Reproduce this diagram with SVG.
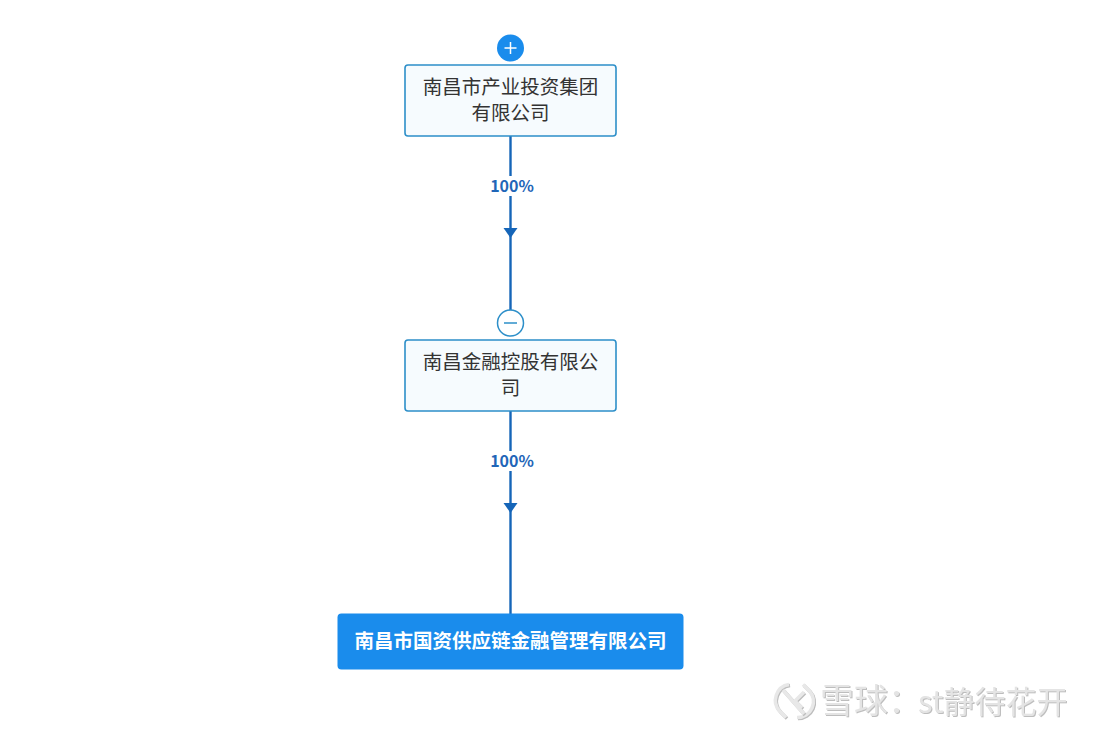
<svg xmlns="http://www.w3.org/2000/svg" width="1100" height="735" viewBox="0 0 1100 735">
<defs>
<style>
text{font-family:"Noto Sans CJK SC","Noto Sans",sans-serif}
.box{fill:#f6fbfe;stroke:#2d8fc9;stroke-width:1.6}
.t{font-size:19.5px;fill:#333;text-anchor:middle}
.pct{font-size:16px;font-weight:700;fill:#1f66b8;text-anchor:middle}
.line{stroke:#1565b8;stroke-width:2.4;fill:none}
.arr{fill:#1565b8}
.wm{fill:#e4e4e4;filter:url(#s)}
.logo{fill:none;stroke:#e8e8e8;stroke-width:3.500;filter:url(#s)}
</style>
<filter id="s" x="-10%" y="-20%" width="120%" height="140%"><feDropShadow dx="1" dy="1" stdDeviation="0.6" flood-color="#bdbdbd"/></filter>
</defs>
<rect width="1100" height="735" fill="#fff"/>
<g id="connectors">
<line class="line" x1="510.500" y1="136" x2="510.500" y2="176"/>
<line class="line" x1="510.500" y1="196" x2="510.500" y2="311"/>
<polygon class="arr" points="503.500,228 517.500,228 510.500,238"/>
<rect x="486" y="176" width="50" height="20" fill="#fff"/>
<text class="pct" x="512" y="192">100%</text>
<line class="line" x1="510.500" y1="411" x2="510.500" y2="451"/>
<line class="line" x1="510.500" y1="471" x2="510.500" y2="614"/>
<polygon class="arr" points="503.500,503 517.500,503 510.500,513"/>
<rect x="486" y="451" width="50" height="20" fill="#fff"/>
<text class="pct" x="512" y="467">100%</text>
</g>
<g id="node-1">
<rect class="box" x="405" y="65" width="211" height="71" rx="3"/>
<text class="t" x="510.500" y="93.500">南昌市产业投资集团</text>
<text class="t" x="510.500" y="119.500">有限公司</text>
<circle cx="510.500" cy="48" r="13.500" fill="#1a8cec"/>
<path d="M504.500 48h12M510.500 42v12" stroke="#fff" stroke-width="1.500" fill="none"/>
</g>
<g id="node-2">
<rect class="box" x="405" y="340" width="211" height="71" rx="3"/>
<text class="t" x="510.500" y="368.500">南昌金融控股有限公</text>
<text class="t" x="510.500" y="394.500">司</text>
<circle cx="510.500" cy="323" r="13" fill="#fff" stroke="#2d8fc9" stroke-width="1.500"/>
<path d="M504 323h13" stroke="#2d8fc9" stroke-width="1.500" fill="none"/>
</g>
<g id="node-3">
<rect x="337.500" y="613.500" width="346" height="56" rx="4" fill="#1a8cec"/>
<text x="510.500" y="648" font-size="19.500" font-weight="700" fill="#fff" text-anchor="middle">南昌市国资供应链金融管理有限公司</text>
</g>
<g id="watermark">
<path class="logo" d="M789 684.500a16 16 0 0 0 -9 27l6 6M797 717.500a16 16 0 0 0 12 -27l-6 -6"/>
<path class="logo" d="M783 690l21 24M804 692l-9 9 7 7"/>
<text class="wm" x="820" y="713" font-size="34">雪球：</text>
<text class="wm" x="918" y="713" font-size="31">st静待花开</text>
</g>
</svg>
